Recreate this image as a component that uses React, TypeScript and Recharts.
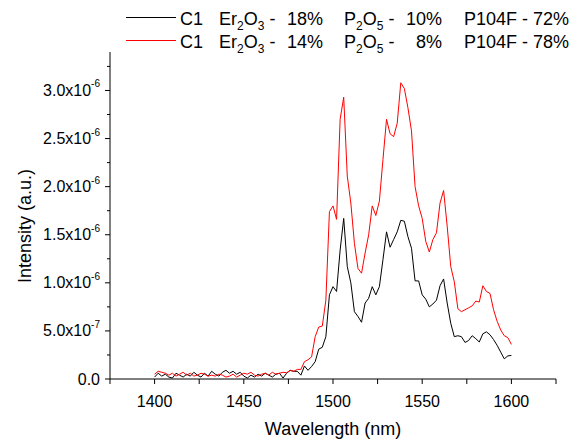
import { LineChart, Line, XAxis, YAxis } from "recharts";

// wavelength grid (nm)
const wavelengths = [
  1400, 1402, 1404, 1406, 1408, 1410, 1412, 1414, 1416, 1418, 1420, 1422, 1424, 1426, 1428, 1430, 1432,
  1434, 1436, 1438, 1440, 1442, 1444, 1446, 1448, 1450, 1452, 1454, 1456, 1458, 1460, 1462, 1464, 1466,
  1468, 1470, 1472, 1474, 1476, 1478, 1480, 1482, 1484, 1486, 1488, 1490, 1492, 1494, 1496, 1498, 1500,
  1502, 1504, 1506, 1508, 1510, 1512, 1514, 1516, 1518, 1520, 1522, 1524, 1526, 1528, 1530, 1532, 1534,
  1536, 1538, 1540, 1542, 1544, 1546, 1548, 1550, 1552, 1554, 1556, 1558, 1560, 1562, 1564, 1566, 1568,
  1570, 1572, 1574, 1576, 1578, 1580, 1582, 1584, 1586, 1588, 1590, 1592, 1594, 1596, 1598, 1600,
];

// intensities in units of 1e-6 a.u.
const sample18 = [
  0.02, 0.06, 0.03, 0.05, 0.02, 0.01, 0.06, 0.04, 0.02, 0.05, 0.03, 0.07, 0.04, 0.02, 0.06, 0.03, 0.08,
  0.05, 0.03, 0.07, 0.09, 0.06, 0.08, 0.05, 0.07, 0.03, 0.01, 0.04, 0.02, 0.05, 0.03, 0.06, 0.04, 0.02,
  0.05, 0.06, 0.01, 0.06, 0.09, 0.08, 0.08, 0.04, 0.135, 0.09, 0.13, 0.18, 0.31, 0.33, 0.44, 0.875, 0.96,
  0.91, 1.34, 1.67, 1.17, 1.0, 0.7, 0.65, 0.59, 0.79, 0.84, 0.96, 0.875, 0.96, 1.24, 1.53, 1.37, 1.45,
  1.53, 1.65, 1.64, 1.48, 1.36, 1.02, 1.02, 0.875, 0.83, 0.75, 0.78, 0.82, 0.97, 1.04, 0.79, 0.58, 0.44,
  0.45, 0.44, 0.38, 0.4, 0.45, 0.42, 0.385, 0.47, 0.49, 0.46, 0.41, 0.35, 0.28, 0.21, 0.24, 0.245,
];

const sample14 = [
  0.05, 0.08, 0.07, 0.06, 0.04, 0.06, 0.03, 0.05, 0.07, 0.04, 0.06, 0.03, 0.04, 0.06, 0.05, 0.03, 0.04,
  0.03, 0.05, 0.04, 0.02, 0.03, 0.05, 0.02, 0.04, 0.06, 0.05, 0.07, 0.04, 0.03, 0.05, 0.06, 0.04, 0.07,
  0.05, 0.06, 0.07, 0.065, 0.09, 0.08, 0.1, 0.1, 0.18, 0.2, 0.23, 0.44, 0.54, 0.55, 0.82, 1.74, 1.8,
  1.66, 2.7, 2.93, 2.11, 1.83, 1.41, 1.15, 1.1, 1.31, 1.5, 1.8, 1.7, 1.85, 2.28, 2.7, 2.55, 2.52,
  2.66, 3.08, 3.02, 2.82, 2.58, 2.0, 1.8, 1.67, 1.43, 1.32, 1.45, 1.52, 1.83, 1.96, 1.59, 1.17, 1.01,
  0.73, 0.7, 0.72, 0.74, 0.76, 0.81, 0.8, 0.97, 0.91, 0.89, 0.72, 0.6, 0.51, 0.45, 0.43, 0.36,
];

const xTicks = [1375, 1400, 1425, 1450, 1475, 1500, 1525, 1550, 1575, 1600, 1625];
const yTicks = [0, 0.25, 0.5, 0.75, 1, 1.25, 1.5, 1.75, 2, 2.25, 2.5, 2.75, 3, 3.25];
const yLabels: Record<string, [string, string]> = {
  "0": ["0.0", ""],
  "0.5": ["5.0x10", "-7"],
  "1": ["1.0x10", "-6"],
  "1.5": ["1.5x10", "-6"],
  "2": ["2.0x10", "-6"],
  "2.5": ["2.5x10", "-6"],
  "3": ["3.0x10", "-6"],
};

const FONT = "'Liberation Sans', Arial, sans-serif";

const data = wavelengths.map((wl, i) => ({ wl, a: sample18[i], b: sample14[i] }));

function XTick(props: any) {
  const { x, y, payload } = props;
  const major = payload.value % 50 === 0;
  return (
    <g>
      <line x1={x} x2={x} y1={y} y2={y + 5} stroke="#000" strokeWidth={1} />
      {major && (
        <text x={x} y={y + 22} textAnchor="middle" dominantBaseline="central" fontSize={16} fontFamily={FONT} fill="#000">
          {payload.value}
        </text>
      )}
    </g>
  );
}

function YTick(props: any) {
  const { x, y, payload } = props;
  const lbl = yLabels[String(payload.value)];
  return (
    <g>
      <line x1={x - (lbl ? 5 : 3)} x2={x} y1={y} y2={y} stroke="#000" strokeWidth={1} />
      {lbl && (
        <text x={x - 10} y={y} textAnchor="end" dominantBaseline="central" fontSize={16} fontFamily={FONT} fill="#000">
          {lbl[0]}
          {lbl[1] && (
            <tspan fontSize={10} dy={-7}>
              {lbl[1]}
            </tspan>
          )}
        </text>
      )}
    </g>
  );
}

function LegendRow({ top, color, er, p, pct }: { top: number; color: string; er: string; p: string; pct: string }) {
  const sub = { fontSize: 12, verticalAlign: "-5px" } as const;
  const item = (left: number, content: any) => (
    <span style={{ position: "absolute", left, top: 0, whiteSpace: "nowrap" }}>{content}</span>
  );
  return (
    <div style={{ position: "absolute", left: 0, top, height: 20, width: 580, fontSize: 18, lineHeight: "20px" }}>
      <div style={{ position: "absolute", left: 126, width: 50, top: 8, borderTop: `1px solid ${color}` }} />
      {item(180, "C1")}
      {item(219, <>Er<sub style={sub}>2</sub>O<sub style={sub}>3</sub> -</>)}
      <span style={{ position: "absolute", left: 263, width: 60, top: 0, textAlign: "right" }}>{er}</span>
      {item(344, <>P<sub style={sub}>2</sub>O<sub style={sub}>5</sub> -</>)}
      <span style={{ position: "absolute", left: 382, width: 60, top: 0, textAlign: "right" }}>{p}</span>
      {item(464, `P104F - ${pct}`)}
    </div>
  );
}

export default function App() {
  return (
    <div style={{ position: "absolute", left: 0, top: 0, width: 580, height: 443, background: "#fff", fontFamily: FONT, color: "#000" }}>
      <LineChart width={580} height={443} data={data} margin={{ top: 52, right: 24, left: 15, bottom: 24 }}>
        <XAxis
          dataKey="wl"
          type="number"
          domain={[1375, 1625]}
          ticks={xTicks}
          interval={0}
          height={40}
          tickSize={0}
          tickMargin={0}
          tickLine={false}
          axisLine={{ stroke: "#000", strokeWidth: 1 }}
          tick={<XTick />}
        />
        <YAxis
          type="number"
          domain={[0, 3.4]}
          ticks={yTicks}
          interval={0}
          width={95}
          tickSize={0}
          tickMargin={0}
          tickLine={false}
          allowDataOverflow
          axisLine={{ stroke: "#000", strokeWidth: 1 }}
          tick={<YTick />}
        />
        <Line dataKey="a" stroke="#000000" strokeWidth={1} dot={false} isAnimationActive={false} />
        <Line dataKey="b" stroke="#ff0000" strokeWidth={1} dot={false} isAnimationActive={false} />
      </LineChart>

      <LegendRow top={9} color="#000" er="18%" p="10%" pct="72%" />
      <LegendRow top={32} color="#ff0000" er="14%" p="8%" pct="78%" />

      <div style={{ position: "absolute", left: 333, top: 429, transform: "translate(-50%, -50%)", fontSize: 18, whiteSpace: "nowrap" }}>
        Wavelength (nm)
      </div>
      <div style={{ position: "absolute", left: 25, top: 226, transform: "translate(-50%, -50%) rotate(-90deg)", fontSize: 18, whiteSpace: "nowrap" }}>
        Intensity (a.u.)
      </div>
    </div>
  );
}
